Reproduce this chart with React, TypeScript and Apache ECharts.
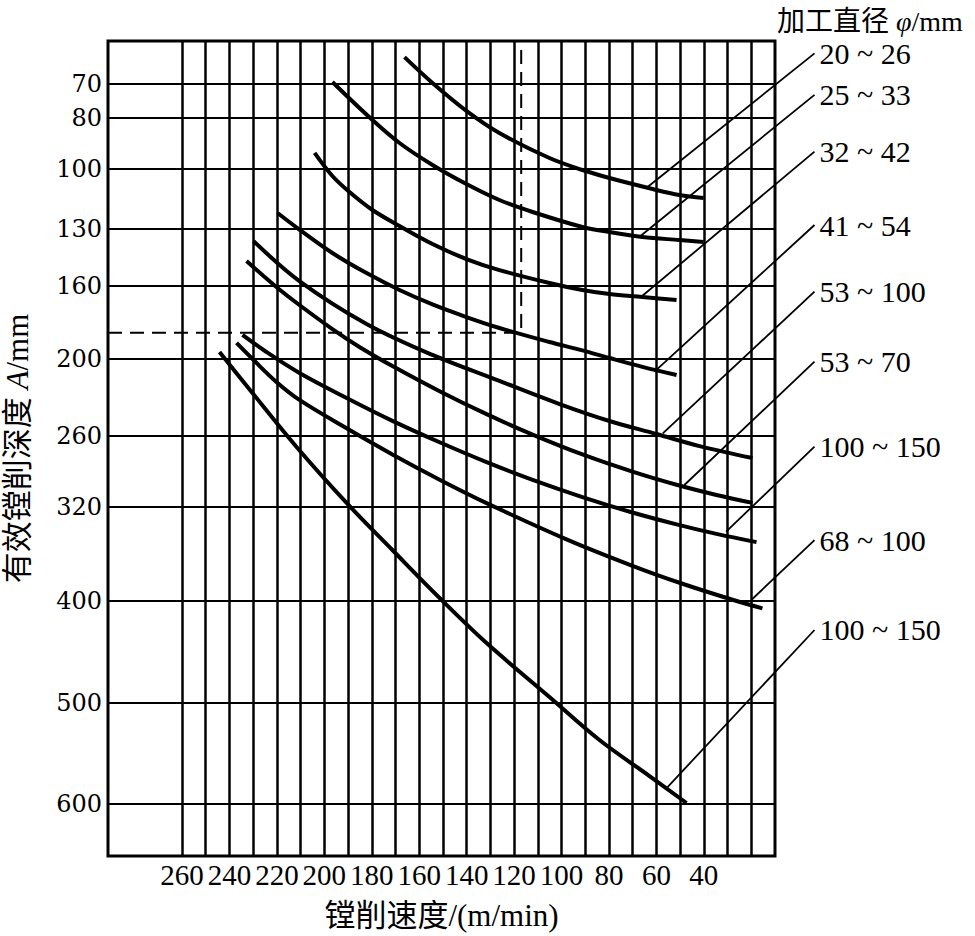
import React, { useEffect, useRef } from "react";
import * as echarts from "echarts";

const SERIF = "'Liberation Serif', 'Times New Roman', 'Noto Sans CJK SC', serif";
const TICK_SERIF = "'DejaVu Serif', 'Liberation Serif', serif";

// Depth scale of the nomogram (irregular graduation):
// position of each tick along the scale, in % of the 70 -> 600 span.
const DEPTH_TICKS = [70, 80, 100, 130, 160, 200, 260, 320, 400, 500, 600];
const DEPTH_GRADUATION = [0, 4.72, 11.81, 20.14, 28.06, 38.19, 48.89, 58.75, 71.81, 85.97, 100];
const DEPTH_AXIS_RANGE = [-5.97, 107.22];

// Speed scale (m/min), reversed, linear
const SPEED_LABELS = [260, 240, 220, 200, 180, 160, 140, 120, 100, 80, 60, 40];
const SPEED_GRID = [260, 250, 240, 230, 220, 210, 200, 190, 180, 170, 160, 150, 140, 130, 120, 110, 100, 90, 80, 70, 60, 50, 40, 30, 20];
const SPEED_AXIS_RANGE = [10, 291.2];

const CURVE_NAMES = ["20 ~ 26", "25 ~ 33", "32 ~ 42", "41 ~ 54", "53 ~ 100", "53 ~ 70", "100 ~ 150", "68 ~ 100", "100 ~ 150"];

// [speed m/min, depth A mm]
const CURVE_20_26 = [[166.2, 62.1], [154.4, 69.7], [140.1, 77.9], [126.2, 85.9], [105.1, 95.7], [91.2, 100.5], [79.8, 104.5], [61.6, 110.0], [50.3, 113.0], [40.1, 114.5]];
const CURVE_25_33 = [[196.6, 69.4], [179.7, 80.8], [168.3, 89.8], [154.4, 98.4], [140.1, 107.5], [126.2, 115.5], [112.2, 121.5], [91.2, 129.0], [79.8, 131.6], [65.9, 134.2], [50.3, 135.8], [40.1, 136.8]];
const CURVE_32_42 = [[204.1, 93.7], [196.6, 103.5], [189.4, 111.5], [179.7, 120.5], [168.3, 128.5], [154.4, 137.9], [140.1, 145.8], [126.2, 151.6], [105.1, 158.4], [91.2, 162.2], [79.8, 164.4], [65.9, 166.0], [51.5, 167.7]];
const CURVE_41_54 = [[219.7, 122.0], [210.5, 130.3], [196.6, 142.6], [182.2, 153.2], [168.3, 162.2], [154.4, 170.1], [140.1, 177.0], [126.2, 183.0], [105.1, 190.7], [91.2, 195.3], [79.8, 199.5], [65.9, 206.2], [51.5, 212.5]];
const CURVE_53_100 = [[229.9, 136.3], [210.5, 157.4], [182.2, 180.8], [154.4, 197.8], [126.2, 217.1], [100.8, 235.1], [79.8, 248.3], [60.0, 258.4], [41.8, 268.5], [19.5, 278.6]];
const CURVE_53_70 = [[232.8, 146.8], [220.2, 160.5], [210.5, 170.4], [196.6, 183.6], [185.2, 193.4], [171.3, 205.5], [151.4, 225.1], [131.6, 243.0], [112.2, 258.9], [91.2, 275.6], [70.1, 290.1], [51.5, 301.2], [34.7, 309.8], [19.5, 316.5]];
const CURVE_100_150_A = [[234.5, 186.8], [224.4, 196.2], [210.5, 210.9], [190.6, 230.4], [171.3, 248.2], [151.4, 265.3], [131.6, 282.1], [112.2, 297.1], [91.2, 311.6], [70.1, 324.7], [51.5, 334.8], [34.7, 342.9], [17.8, 349.9]];
const CURVE_68_100 = [[237.0, 191.2], [229.4, 201.6], [220.2, 217.9], [210.5, 231.9], [190.6, 254.0], [171.3, 275.6], [151.4, 296.9], [131.6, 316.7], [97.9, 347.5], [70.1, 370.0], [49.0, 385.3], [27.9, 398.9], [15.3, 407.2]];
const CURVE_100_150_B = [[244.2, 196.2], [230.3, 226.5], [211.7, 269.3], [190.6, 316.6], [171.3, 356.6], [151.4, 397.4], [131.6, 441.2], [105.1, 494.1], [84.0, 536.6], [62.9, 572.3], [47.3, 599.0]];
const CURVES = [CURVE_20_26, CURVE_25_33, CURVE_32_42, CURVE_41_54, CURVE_53_100, CURVE_53_70, CURVE_100_150_A, CURVE_68_100, CURVE_100_150_B];

// Leader lines: point on the curve [speed, depth] -> label depth at the label column
const LEADER_ANCHORS = [[63.6, 108.9], [67.1, 134.1], [66.4, 165.9], [60.8, 209.9], [57.3, 257.9], [48.2, 301.4], [30.6, 341.0], [20.0, 399.1], [55.3, 583.2]];
const LABEL_DEPTHS = [61.0, 73.2, 93.2, 128.0, 163.1, 202.1, 269.0, 348.1, 428.4];
const LABEL_SPEED = -6.65;

// Worked example (dashed)
const EXAMPLE_SPEED = 117;
const EXAMPLE_DEPTH = 185.6;

function toScale(depth: number): number {
  const t = DEPTH_TICKS;
  const g = DEPTH_GRADUATION;
  let i = 0;
  while (i < t.length - 2 && depth > t[i + 1]) i++;
  return g[i] + ((depth - t[i]) * (g[i + 1] - g[i])) / (t[i + 1] - t[i]);
}

function depthLabel(u: number): string {
  let best = 0;
  for (let i = 1; i < DEPTH_GRADUATION.length; i++) {
    if (Math.abs(DEPTH_GRADUATION[i] - u) < Math.abs(DEPTH_GRADUATION[best] - u)) best = i;
  }
  return String(DEPTH_TICKS[best]);
}

export default function App() {
  const ref = useRef<HTMLDivElement>(null);

  useEffect(() => {
    if (!ref.current) return;
    const chart = echarts.init(ref.current, undefined, { renderer: "svg" });

    const gridSeries: any = {
      type: "line",
      name: "grid",
      data: [],
      silent: true,
      z: 1,
      markLine: {
        silent: true,
        symbol: ["none", "none"],
        animation: false,
        label: { show: false },
        emphasis: { disabled: true },
        lineStyle: { color: "#000", width: 2.3, type: "solid" },
        data: [
          ...SPEED_GRID.map((v) => ({ xAxis: v, lineStyle: { color: "#000", width: 2.5, type: "solid" } })),
          ...DEPTH_GRADUATION.map((g) => ({ yAxis: g, lineStyle: { color: "#000", width: 2.2, type: "solid" } })),
        ],
      },
    };

    const exampleSeries: any = {
      type: "line",
      name: "example",
      data: [
        [SPEED_AXIS_RANGE[1], toScale(EXAMPLE_DEPTH)],
        [EXAMPLE_SPEED, toScale(EXAMPLE_DEPTH)],
        [EXAMPLE_SPEED, DEPTH_AXIS_RANGE[0]],
      ],
      symbol: "none",
      silent: true,
      z: 2,
      lineStyle: { color: "#000", width: 2, type: [14, 8] },
    };

    const curveSeries = CURVES.map((c, i) => ({
      type: "line",
      name: CURVE_NAMES[i],
      data: c.map(([v, a]) => [v, toScale(a)]),
      smooth: 0.35,
      symbol: "none",
      silent: true,
      z: 3,
      lineStyle: { color: "#000", width: 4 },
    }));

    const leaderSeries: any = {
      type: "custom",
      name: "leaders",
      coordinateSystem: "cartesian2d",
      clip: false,
      silent: true,
      z: 4,
      data: LEADER_ANCHORS.map(([v, a], i) => [v, toScale(a), LABEL_SPEED, toScale(LABEL_DEPTHS[i]), i]),
      encode: { x: [0, 2], y: [1, 3] },
      renderItem: (params: any, api: any) => {
        const p1 = api.coord([api.value(0), api.value(1)]);
        const p2 = api.coord([api.value(2), api.value(3)]);
        const idx = api.value(4);
        return {
          type: "group",
          children: [
            {
              type: "line",
              shape: { x1: p1[0], y1: p1[1], x2: p2[0], y2: p2[1] },
              style: { stroke: "#000", lineWidth: 1.8 },
            },
            {
              type: "text",
              x: p2[0] + 5,
              y: p2[1],
              style: {
                text: CURVE_NAMES[idx],
                fill: "#000",
                fontFamily: SERIF,
                fontSize: 30,
                align: "left",
                verticalAlign: "middle",
              },
            },
          ],
        };
      },
    };

    chart.setOption({
      animation: false,
      backgroundColor: "#fff",
      title: {
        text: "加工直径 {i|φ}/mm",
        left: 772,
        top: 2,
        textStyle: {
          fontFamily: SERIF,
          fontSize: 28,
          fontWeight: "normal",
          color: "#000",
          rich: { i: { fontFamily: SERIF, fontSize: 28, fontStyle: "italic", color: "#000" } },
        },
      },
      grid: {
        left: 108,
        top: 41,
        width: 667,
        height: 815,
        show: true,
        containLabel: false,
        outerBoundsMode: "none",
        borderColor: "#000",
        borderWidth: 3,
        backgroundColor: "transparent",
      },
      xAxis: {
        type: "value",
        inverse: true,
        min: SPEED_AXIS_RANGE[0],
        max: SPEED_AXIS_RANGE[1],
        axisLine: { show: false },
        axisTick: { show: false },
        splitLine: { show: false },
        axisLabel: {
          customValues: SPEED_LABELS,
          formatter: (v: number) => String(Math.round(v)),
          fontFamily: SERIF,
          fontSize: 29,
          color: "#000",
          margin: 4,
        },
        name: "镗削速度/(m/min)",
        nameLocation: "middle",
        nameGap: 44,
        nameTextStyle: { fontFamily: SERIF, fontSize: 31, color: "#000" },
      },
      yAxis: {
        type: "value",
        inverse: true,
        min: DEPTH_AXIS_RANGE[0],
        max: DEPTH_AXIS_RANGE[1],
        axisLine: { show: false },
        axisTick: { show: false },
        splitLine: { show: false },
        axisLabel: {
          customValues: DEPTH_GRADUATION,
          formatter: (u: number) => depthLabel(u),
          fontFamily: TICK_SERIF,
          fontSize: 24,
          color: "#000",
          margin: 6,
        },
        name: "有效镗削深度 {i|A}/mm",
        nameLocation: "middle",
        nameGap: 75,
        nameTextStyle: {
          fontFamily: SERIF,
          fontSize: 31,
          color: "#000",
          rich: { i: { fontFamily: SERIF, fontSize: 31, fontStyle: "italic", color: "#000" } },
        },
      },
      series: [gridSeries, exampleSeries, ...curveSeries, leaderSeries],
    });

    return () => chart.dispose();
  }, []);

  return (
    <div
      ref={ref}
      style={{ position: "absolute", left: 0, top: 0, width: 975, height: 936, background: "#fff" }}
    />
  );
}
